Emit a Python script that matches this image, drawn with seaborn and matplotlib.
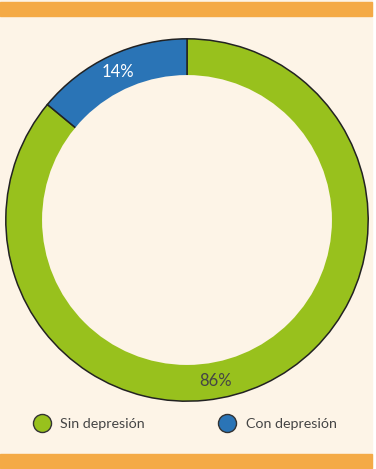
import numpy as np
import matplotlib
matplotlib.use("Agg")
import matplotlib.pyplot as plt
import seaborn as sns
from matplotlib.patches import Rectangle, Circle
from matplotlib.lines import Line2D

sns.set_theme(style="white")
plt.rcParams["font.family"] = ["Lato", "DejaVu Sans"]

# datos
categorias = ["Sin depresión", "Con depresión"]
porcentajes = [86, 14]
etiquetas = ["86%", "14%"]
colores = ["#98c11d", "#2a74b6"]

CREMA = "#fdf4e7"
NARANJA = "#f4aa46"
TEXTO = "#454545"

W, H = 376, 469
fig = plt.figure(figsize=(W / 100, H / 100), dpi=100, facecolor="white")

# fondo crema y bandas naranjas
fig.add_artist(Rectangle((0, 0), 372 / W, 1, transform=fig.transFigure, color=CREMA, zorder=0))
fig.add_artist(Rectangle((0, 1 - 16 / H), 372 / W, 14 / H, transform=fig.transFigure, color=NARANJA, zorder=1))
fig.add_artist(Rectangle((0, 1 - 468 / H), 372 / W, 14 / H, transform=fig.transFigure, color=NARANJA, zorder=1))

# anillo
cx, cy, r = 187, 220, 183
ax = fig.add_axes([(cx - r) / W, (H - cy - r) / H, 2 * r / W, 2 * r / H])
ax.set_facecolor("none")
ax.patch.set_alpha(0)

wedges, _ = ax.pie(
    porcentajes,
    colors=colores,
    startangle=90,
    counterclock=False,
    radius=1,
    wedgeprops=dict(width=0.21, edgecolor="#222222", linewidth=1.1),
)
# tapar el borde interior (en la referencia no lleva linea)
ax.add_patch(Circle((0, 0), 0.8, facecolor=CREMA, edgecolor="none", zorder=5))

# etiquetas de porcentaje
ang_con = np.deg2rad(90 + 360 * porcentajes[1] / 100 / 2)
ax.text(0.9 * np.cos(ang_con), 0.9 * np.sin(ang_con), etiquetas[1],
        ha="center", va="center", color="white", fontsize=12, zorder=6)
ang_sin = np.deg2rad(-80)
ax.text(0.9 * np.cos(ang_sin), 0.9 * np.sin(ang_sin), etiquetas[0],
        ha="center", va="center", color=TEXTO, fontsize=12, zorder=6)

ax.set_xlim(-1.01, 1.01)
ax.set_ylim(-1.01, 1.01)
ax.set_aspect("equal")
ax.axis("off")

# leyenda
handles = [
    Line2D([], [], marker="o", linestyle="none", markersize=13,
           markerfacecolor=c, markeredgecolor="#333333", markeredgewidth=1.0)
    for c in colores
]
fig.legend(
    handles, categorias,
    loc="center left",
    bbox_to_anchor=(33 / W, (H - 424) / H),
    ncol=2, frameon=False, fontsize=10.3,
    handlelength=1.2, handletextpad=0.68, columnspacing=5.2,
    borderpad=0, borderaxespad=0,
    labelcolor=TEXTO,
)

fig.savefig("out.png", dpi=100, facecolor="white")
